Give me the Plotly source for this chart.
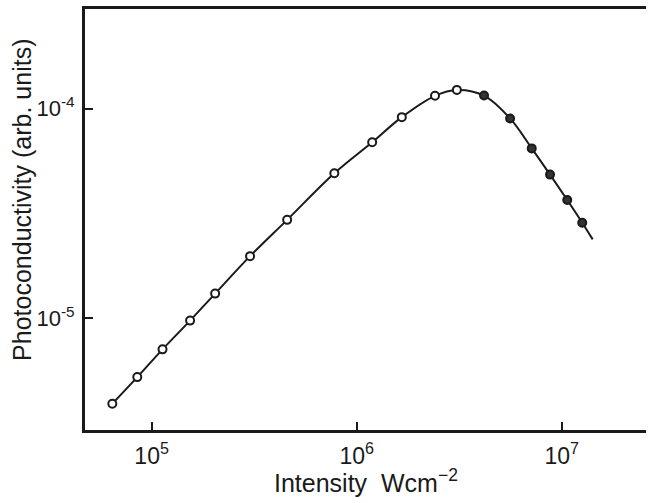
import plotly.graph_objects as go

intensity_open = [6.43e4, 8.51e4, 1.13e5, 1.54e5, 2.04e5, 3.02e5, 4.58e5, 7.78e5,
                  1.19e6, 1.66e6, 2.41e6, 3.08e6]
photo_open = [3.91e-6, 5.24e-6, 7.11e-6, 9.75e-6, 1.312e-5, 1.98e-5, 2.95e-5, 4.92e-5,
              6.92e-5, 9.12e-5, 1.153e-4, 1.230e-4]
intensity_filled = [4.18e6, 5.60e6, 7.14e6, 8.77e6, 1.064e7, 1.259e7]
photo_filled = [1.156e-4, 8.99e-5, 6.47e-5, 4.85e-5, 3.67e-5, 2.86e-5]
curve_end_x = [1.416e7]
curve_end_y = [2.38e-5]

x_tickvals = [1e5, 1e6, 1e7]
x_ticktext = ["10<sup>5</sup>", "10<sup>6</sup>", "10<sup>7</sup>"]
y_tickvals = [1e-5, 1e-4]
y_ticktext = ["10<sup>-5</sup>", "10<sup>-4</sup>"]

curve_x = intensity_open + intensity_filled + curve_end_x
curve_y = photo_open + photo_filled + curve_end_y

INK = "#1a1a1a"
FONT = "Liberation Sans"

fig = go.Figure()
fig.add_trace(go.Scatter(x=curve_x, y=curve_y, mode="lines",
                         line=dict(color=INK, width=2, shape="spline", smoothing=1.0),
                         hoverinfo="skip", showlegend=False))
fig.add_trace(go.Scatter(x=intensity_open, y=photo_open, mode="markers",
                         marker=dict(symbol="circle", size=8, color="white",
                                     line=dict(color=INK, width=2)),
                         showlegend=False))
fig.add_trace(go.Scatter(x=intensity_filled, y=photo_filled, mode="markers",
                         marker=dict(symbol="circle", size=8, color="#333333",
                                     line=dict(color=INK, width=2)),
                         showlegend=False))

fig.update_layout(
    width=648, height=503,
    margin=dict(l=85, r=2, t=9, b=73, autoexpand=False),
    paper_bgcolor="white", plot_bgcolor="white",
    font=dict(family=FONT, color=INK, size=24),
    xaxis=dict(type="log", range=[4.675, 7.411], automargin=False,
               tickvals=x_tickvals, ticktext=x_ticktext,
               tickfont=dict(size=23, family=FONT, color=INK),
               ticks="inside", ticklen=8, tickwidth=2, tickcolor=INK,
               showline=True, linewidth=3, linecolor=INK, mirror=True,
               showgrid=False, zeroline=False,
               ticklabelstandoff=3),
    yaxis=dict(type="log", range=[-5.533, -3.524], automargin=False,
               tickvals=y_tickvals, ticktext=y_ticktext,
               tickfont=dict(size=22, family=FONT, color=INK),
               ticks="inside", ticklen=8, tickwidth=2, tickcolor=INK,
               showline=True, linewidth=3, linecolor=INK, mirror=False,
               showgrid=False, zeroline=False,
               ticklabelstandoff=3),
    annotations=[
        dict(text="Photoconductivity (arb. units)", textangle=-90,
             xref="paper", yref="paper", x=-0.112, y=0.547,
             xanchor="center", yanchor="middle", showarrow=False,
             font=dict(size=25, family=FONT, color=INK)),
        dict(text="Intensity  Wcm<sup>\u22122</sup>",
             xref="paper", yref="paper", x=0.5, y=-0.122,
             xanchor="center", yanchor="middle", showarrow=False,
             font=dict(size=25, family=FONT, color=INK)),
    ],
)

fig.write_html("out.html",
               config={"displayModeBar": False},
               post_script="document.body.style.margin='0';document.body.style.overflow='hidden';")
